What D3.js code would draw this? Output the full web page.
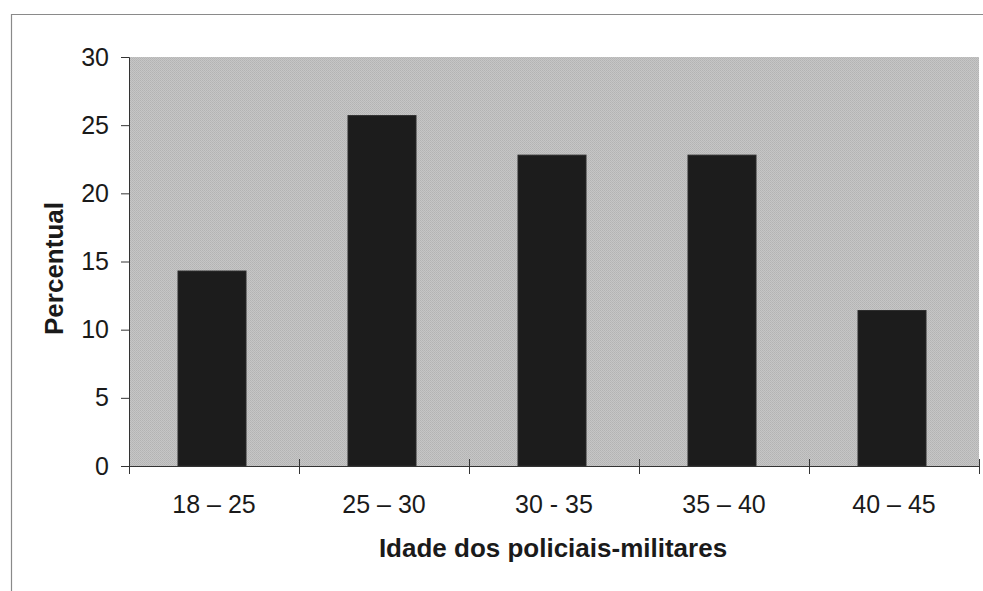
<!DOCTYPE html>
<html>
<head>
<meta charset="utf-8">
<script src="https://cdn.jsdelivr.net/npm/d3@7"></script>
<style>
  body { margin: 0; background: #fff; }
  text { font-family: "Liberation Sans", Arial, sans-serif; fill: #1a1a1a; }
</style>
</head>
<body>
<svg id="chart"></svg>
<script>
var categories = ["18 \u2013 25", "25 \u2013 30", "30 - 35", "35 \u2013 40", "40 \u2013 45"];
var percentValues = [14.3, 25.7, 22.8, 22.8, 11.4];
var yTicks = [0, 5, 10, 15, 20, 25, 30];

var w = 983;
var h = 591;
var margin = { left: 129, right: 4, top: 57, bottom: 125 };
var figw = w - margin.left - margin.right;
var figh = h - margin.top - margin.bottom;

var svg = d3.select("#chart").attr("width", w).attr("height", h);

// dithered grey background, like the scanned original
var defs = svg.append("defs");
var pat = defs.append("pattern")
    .attr("id", "dither")
    .attr("width", 2).attr("height", 2)
    .attr("patternUnits", "userSpaceOnUse");
pat.append("rect").attr("width", 2).attr("height", 2).attr("fill", "#c6c6c6");
pat.append("rect").attr("width", 1).attr("height", 1).attr("fill", "#b3b3b3");
pat.append("rect").attr("x", 1).attr("y", 1).attr("width", 1).attr("height", 1).attr("fill", "#b8b8b8");

// outer frame
svg.append("path")
    .attr("d", "M11.5," + (h + 5) + "V14.5H" + (w + 5))
    .attr("fill", "none")
    .attr("stroke", "#8a8a8a")
    .attr("stroke-width", 1.2);

var x = d3.scaleBand()
    .domain(categories)
    .range([margin.left, margin.left + figw])
    .paddingInner(0.6)
    .paddingOuter(0.3);

var y = d3.scaleLinear()
    .domain([0, 30])
    .range([margin.top + figh, margin.top]);

// plot area
svg.append("rect")
    .attr("x", margin.left)
    .attr("y", margin.top)
    .attr("width", figw)
    .attr("height", figh)
    .attr("fill", "url(#dither)");

// bars
svg.selectAll(".bar")
    .data(percentValues)
    .enter()
    .append("rect")
    .attr("class", "bar")
    .attr("x", function(d, i) { return x(categories[i]) - 2; })
    .attr("y", function(d) { return y(d); })
    .attr("width", x.bandwidth())
    .attr("height", function(d) { return y(0) - y(d); })
    .attr("fill", "#1c1c1c")
    .attr("stroke", "#2a2a2a")
    .attr("stroke-width", 1);

// y axis
var yAxis = d3.axisLeft(y).tickValues(yTicks).tickSize(8).tickPadding(12);
var gy = svg.append("g")
    .attr("transform", "translate(" + margin.left + ",0)")
    .call(yAxis);
gy.select(".domain").attr("stroke", "#333");
gy.selectAll(".tick line").attr("stroke", "#333");
gy.selectAll("text")
    .style("font-size", "25px")
    .attr("fill", "#1a1a1a");

// x axis with ticks between categories
var xb = d3.scaleLinear()
    .domain([0, categories.length])
    .range([margin.left, margin.left + figw]);
var gx = svg.append("g")
    .attr("transform", "translate(0," + (margin.top + figh) + ")")
    .call(d3.axisBottom(xb).ticks(categories.length).tickSize(8).tickFormat(""));
gx.select(".domain").attr("stroke", "#333");
gx.selectAll(".tick line").attr("stroke", "#333").attr("y1", -7);

svg.selectAll(".xlabel")
    .data(categories)
    .enter()
    .append("text")
    .attr("class", "xlabel")
    .attr("x", function(d) { return x(d) + x.bandwidth() / 2; })
    .attr("y", margin.top + figh + 47)
    .attr("text-anchor", "middle")
    .style("font-size", "25px")
    .text(function(d) { return d; });

// axis titles
svg.append("text")
    .attr("x", 553)
    .attr("y", 557)
    .attr("text-anchor", "middle")
    .style("font-size", "26px")
    .style("font-weight", "bold")
    .text("Idade dos policiais-militares");

svg.append("text")
    .attr("transform", "translate(63," + (margin.top + figh / 2 + 7) + ") rotate(-90)")
    .attr("text-anchor", "middle")
    .style("font-size", "26px")
    .style("font-weight", "bold")
    .text("Percentual");
</script>
</body>
</html>
